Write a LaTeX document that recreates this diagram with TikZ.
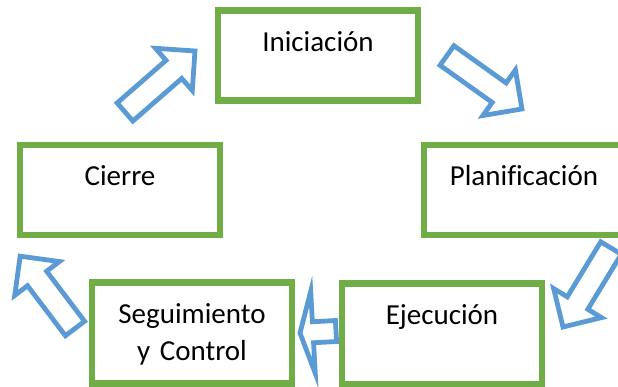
\documentclass[tikz,border=0pt]{standalone}
\usepackage{fontspec}
\setmainfont{Carlito}[Ligatures=NoCommon]
\usetikzlibrary{calc}
\definecolor{verde}{HTML}{70AD47}
\definecolor{azul}{HTML}{5B9BD5}
\tikzset{
    caja/.style={draw=verde, line width=6.5pt, fill=white, text width=190pt, align=center,
        inner xsep=5pt, inner ysep=0pt, text height=41pt, text depth=49pt,
        font=\fontsize{29}{37}\selectfont},
    cajaalta/.style={caja, text depth=60pt},
    flecha/.style={draw=azul, line width=4.8pt, fill=white, line join=miter}
}
% block arrow: tail, tip, half shaft, half head, head length
\newcommand{\flecha}[5]{%
    \draw[flecha] let \p1=($(#2)-(#1)$), \n1={atan2(\y1,\x1)}, \n2={veclen(\x1,\y1)} in
        [shift={(#1)}, rotate=\n1]
        (0,#3) -- (\n2-#5,#3) -- (\n2-#5,#4) -- (\n2,0) -- (\n2-#5,-#4) -- (\n2-#5,-#3) -- (0,-#3) -- cycle;
}
\begin{document}
\begin{tikzpicture}[x=1pt, y=-1pt]
\useasboundingbox (0,0) rectangle (618,387);
\clip (0,0) rectangle (618,387);

\node[caja] (ini) at (318,55.5) {Iniciación};
\node[caja] (pla) at (524,190) {Planificación};
\node[caja] (cie) at (120,190) {Cierre};
\node[cajaalta] (seg) at (192,333) {Seguimiento\\y Control};
\node[cajaalta] (eje) at (442,334) {Ejecución};

\coordinate (a1) at (125,112);  \coordinate (b1) at (195,51);
\coordinate (a2) at (447,55.5); \coordinate (b2) at (522,109);
\coordinate (a3) at (611,248);  \coordinate (b3) at (563,327);
\coordinate (a4) at (336,331);  \coordinate (b4) at (300,333);
\coordinate (a5) at (75,328.5); \coordinate (b5) at (20,256);

\flecha{a1}{b1}{12}{28}{28}
\flecha{a2}{b2}{12}{28}{28}
\flecha{a3}{b3}{12}{28}{28}
\flecha{a4}{b4}{10.5}{41}{13}
\flecha{a5}{b5}{12}{28}{28}
\end{tikzpicture}
\end{document}
